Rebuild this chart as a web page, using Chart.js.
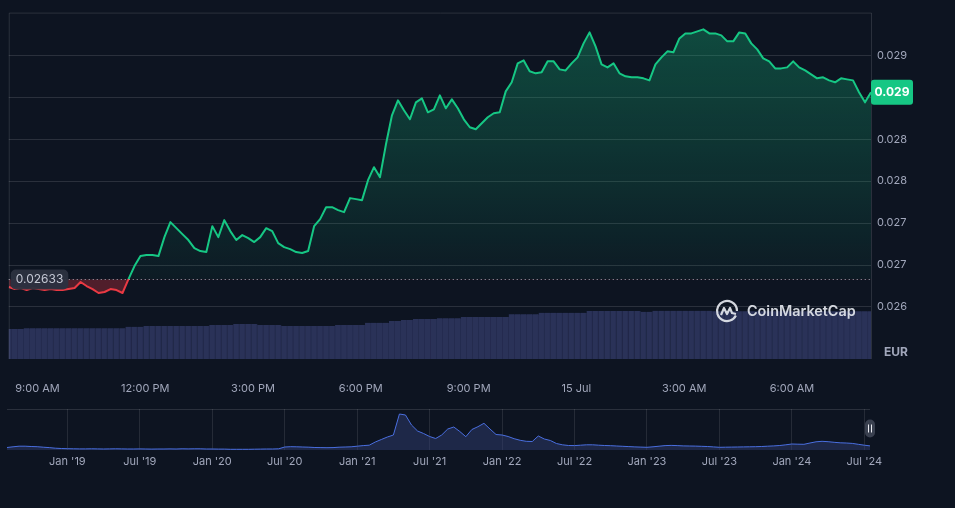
<!DOCTYPE html>
<html>
<head>
<meta charset="utf-8">
<script src="https://cdn.jsdelivr.net/npm/chart.js@4.4.0/dist/chart.umd.min.js"></script>
<style>
  html, body { margin: 0; padding: 0; background: #0d1421; }
  body { width: 955px; height: 508px; position: relative; overflow: hidden; }
  #main { position: absolute; left: 0; top: 0; }
  #nav { position: absolute; left: 0; top: 395px; }
</style>
</head>
<body>
<canvas id="main" width="955" height="395"></canvas>
<canvas id="nav" width="955" height="113"></canvas>
<script>
// 24h price, one point every 10 minutes (hours from 08:12)
const prices = [
  0.026238, 0.026214, 0.026226, 0.026202, 0.026226, 0.026214, 0.026202, 0.026214, 0.026202, 0.026202,
  0.026214, 0.026226, 0.026298, 0.026250, 0.026214, 0.026167, 0.026179, 0.026214, 0.026202, 0.026167,
  0.026333, 0.026488, 0.026607, 0.026619, 0.026619, 0.026607, 0.026833, 0.027012, 0.026940, 0.026869,
  0.026798, 0.026702, 0.026667, 0.026655, 0.026964, 0.026833, 0.027036, 0.026905, 0.026798, 0.026857,
  0.026821, 0.026774, 0.026833, 0.026940, 0.026905, 0.026762, 0.026714, 0.026690, 0.026655, 0.026643,
  0.026667, 0.026964, 0.027048, 0.027190, 0.027190, 0.027155, 0.027131, 0.027298, 0.027286, 0.027274,
  0.027512, 0.027667, 0.027548, 0.027940, 0.028286, 0.028464, 0.028345, 0.028238, 0.028440, 0.028488,
  0.028321, 0.028357, 0.028524, 0.028369, 0.028476, 0.028369, 0.028238, 0.028143, 0.028119, 0.028190,
  0.028262, 0.028310, 0.028321, 0.028571, 0.028679, 0.028905, 0.028940, 0.028810, 0.028786, 0.028798,
  0.028929, 0.028929, 0.028833, 0.028821, 0.028905, 0.028976, 0.029143, 0.029274, 0.029107, 0.028893,
  0.028857, 0.028905, 0.028786, 0.028750, 0.028738, 0.028738, 0.028726, 0.028702, 0.028893, 0.028976,
  0.029048, 0.029036, 0.029202, 0.029262, 0.029262, 0.029286, 0.029310, 0.029262, 0.029262, 0.029238,
  0.029167, 0.029167, 0.029274, 0.029262, 0.029143, 0.029071, 0.028964, 0.028929, 0.028845, 0.028845,
  0.028857, 0.028929, 0.028857, 0.028821, 0.028774, 0.028726, 0.028738, 0.028702, 0.028679, 0.028726,
  0.028714, 0.028702, 0.028560, 0.028440, 0.028560
];

// volume (M EUR), same timestamps
const volumes = [
  2.40, 2.40, 2.40, 2.46, 2.46, 2.46, 2.46, 2.46, 2.46, 2.46,
  2.46, 2.46, 2.46, 2.46, 2.46, 2.46, 2.46, 2.46, 2.46, 2.46,
  2.58, 2.58, 2.58, 2.64, 2.64, 2.64, 2.64, 2.64, 2.64, 2.64,
  2.64, 2.64, 2.64, 2.64, 2.72, 2.72, 2.72, 2.72, 2.80, 2.80,
  2.80, 2.80, 2.72, 2.72, 2.72, 2.72, 2.64, 2.64, 2.64, 2.64,
  2.64, 2.64, 2.64, 2.64, 2.64, 2.72, 2.72, 2.72, 2.72, 2.72,
  2.90, 2.90, 2.90, 2.90, 3.04, 3.04, 3.12, 3.12, 3.20, 3.20,
  3.20, 3.20, 3.26, 3.26, 3.26, 3.26, 3.36, 3.36, 3.36, 3.36,
  3.36, 3.36, 3.36, 3.36, 3.58, 3.58, 3.58, 3.58, 3.58, 3.70,
  3.70, 3.70, 3.70, 3.70, 3.70, 3.70, 3.70, 3.84, 3.84, 3.84,
  3.84, 3.84, 3.84, 3.84, 3.84, 3.84, 3.78, 3.78, 3.86, 3.86,
  3.86, 3.86, 3.86, 3.86, 3.86, 3.86, 3.86, 3.86, 3.82, 3.82,
  3.82, 3.82, 3.82, 3.82, 3.82, 3.82, 3.82, 3.82, 3.82, 3.82,
  3.82, 3.82, 3.82, 3.82, 3.82, 3.82, 3.82, 3.82, 3.82, 3.82,
  3.82, 3.82, 3.82, 3.82, 3.82
];

const openPrice = 0.02633;
const priceTicks = [0.026, 0.0265, 0.027, 0.0275, 0.028, 0.0285, 0.029];
const priceTickLabels = ['0.026', '0.027', '0.027', '0.028', '0.028', '0.029', '0.029'];
const timeTicks = [0.8, 3.8, 6.8, 9.8, 12.8, 15.8, 18.8, 21.8];
const timeLabels = ['9:00 AM', '12:00 PM', '3:00 PM', '6:00 PM', '9:00 PM', '15 Jul', '3:00 AM', '6:00 AM'];

// all-time history, half-month steps from Aug 2018 (months since Jan 2018)
const historyPrices = [
  0.0175, 0.0224, 0.0266, 0.0266, 0.0245, 0.0231, 0.0196, 0.0168, 0.0126, 0.0105,
  0.0091, 0.0084, 0.0077, 0.0077, 0.0084, 0.0077, 0.0070, 0.0077, 0.0084, 0.0077,
  0.0070, 0.0070, 0.0077, 0.0070, 0.0063, 0.0070, 0.0070, 0.0077, 0.0070, 0.0084,
  0.0077, 0.0084, 0.0084, 0.0070, 0.0070, 0.0063, 0.0063, 0.0049, 0.0049, 0.0049,
  0.0049, 0.0056, 0.0063, 0.0070, 0.0070, 0.0084, 0.0210, 0.0231, 0.0224, 0.0210,
  0.0196, 0.0175, 0.0168, 0.0161, 0.0168, 0.0196, 0.0210, 0.0224, 0.0266, 0.0308,
  0.0336, 0.0560, 0.0735, 0.0910, 0.1050, 0.2520, 0.2450, 0.1750, 0.1330, 0.1155,
  0.0945, 0.0805, 0.1050, 0.1470, 0.1610, 0.1295, 0.0931, 0.1435, 0.1631, 0.1869,
  0.1470, 0.1085, 0.1050, 0.0945, 0.0791, 0.0679, 0.0609, 0.0595, 0.0980, 0.0770,
  0.0665, 0.0455, 0.0364, 0.0315, 0.0308, 0.0336, 0.0364, 0.0364, 0.0336, 0.0315,
  0.0301, 0.0280, 0.0259, 0.0238, 0.0217, 0.0203, 0.0189, 0.0224, 0.0266, 0.0308,
  0.0322, 0.0308, 0.0287, 0.0280, 0.0273, 0.0259, 0.0245, 0.0217, 0.0189, 0.0196,
  0.0203, 0.0210, 0.0217, 0.0224, 0.0231, 0.0245, 0.0266, 0.0287, 0.0315, 0.0364,
  0.0420, 0.0406, 0.0399, 0.0490, 0.0574, 0.0609, 0.0581, 0.0539, 0.0504, 0.0490,
  0.0462, 0.0399, 0.0336, 0.0285
];
const historyTicks = [12, 18, 24, 30, 36, 42, 48, 54, 60, 66, 72, 78];
const historyLabels = ["Jan '19", "Jul '19", "Jan '20", "Jul '20", "Jan '21", "Jul '21",
                       "Jan '22", "Jul '22", "Jan '23", "Jul '23", "Jan '24", "Jul '24"];

const green = '#16c784';
const red = '#ea3943';
const gridColor = 'rgba(255,255,255,0.12)';
const labelColor = '#a1a7bb';
const font = 'Inter';

// line colour switches at the open price
function splitColor(context) {
    const chart = context.chart;
    const a = chart.chartArea;
    if (!a) return green;
    const yb = chart.scales.y.getPixelForValue(openPrice);
    const f = Math.min(1, Math.max(0, (yb - a.top) / (a.bottom - a.top)));
    const g = chart.ctx.createLinearGradient(0, a.top, 0, a.bottom);
    g.addColorStop(0, green);
    g.addColorStop(f, green);
    g.addColorStop(f, red);
    g.addColorStop(1, red);
    return g;
}

function greenFill(context) {
    const chart = context.chart;
    const a = chart.chartArea;
    if (!a) return 'rgba(22,199,132,0.15)';
    const yb = chart.scales.y.getPixelForValue(openPrice);
    const g = chart.ctx.createLinearGradient(0, a.top, 0, yb);
    g.addColorStop(0, 'rgba(22,199,132,0.32)');
    g.addColorStop(1, 'rgba(22,199,132,0.04)');
    return g;
}

const overlay = {
    id: 'overlay',
    afterDatasetsDraw(chart) {
        const { ctx, chartArea: a, scales } = chart;
        const yb = Math.round(scales.y.getPixelForValue(openPrice)) + 0.5;
        ctx.save();

        // frame
        ctx.strokeStyle = gridColor;
        ctx.lineWidth = 1;
        ctx.beginPath();
        ctx.moveTo(a.left + 0.5, a.bottom);
        ctx.lineTo(a.left + 0.5, a.top + 0.5);
        ctx.lineTo(a.right + 0.5, a.top + 0.5);
        ctx.lineTo(a.right + 0.5, a.bottom);
        ctx.stroke();

        // dotted open price line
        ctx.setLineDash([1, 3]);
        ctx.strokeStyle = 'rgba(210,214,225,0.75)';
        ctx.beginPath();
        ctx.moveTo(a.left, yb);
        ctx.lineTo(a.right, yb);
        ctx.stroke();
        ctx.setLineDash([]);

        // open price label
        ctx.font = '12px ' + font;
        const txt = '0.02633';
        const tw = ctx.measureText(txt).width;
        ctx.fillStyle = 'rgba(44,49,64,0.95)';
        ctx.beginPath();
        ctx.roundRect(a.left + 2, yb - 10, tw + 10, 20, 5);
        ctx.fill();
        ctx.fillStyle = '#c3c7d3';
        ctx.textBaseline = 'middle';
        ctx.textAlign = 'left';
        ctx.fillText(txt, a.left + 7, yb);

        // watermark
        const cx = a.right - 144, cy = a.bottom - 48;
        ctx.strokeStyle = 'rgba(228,231,238,0.92)';
        ctx.lineWidth = 2.2;
        ctx.lineJoin = 'round';
        ctx.beginPath();
        ctx.arc(cx, cy, 10, 0.15 * Math.PI, 2.0 * Math.PI);
        ctx.stroke();
        ctx.beginPath();
        ctx.moveTo(cx - 6, cy + 4);
        ctx.lineTo(cx - 3, cy - 3);
        ctx.lineTo(cx, cy + 3);
        ctx.lineTo(cx + 3, cy - 3);
        ctx.lineTo(cx + 5, cy + 2);
        ctx.lineTo(cx + 9, cy + 3);
        ctx.stroke();
        ctx.font = '600 15px ' + font;
        const ww = ctx.measureText('CoinMarketCap').width;
        const fs = 15 * 109 / ww;
        ctx.font = '600 ' + fs.toFixed(1) + 'px ' + font;
        ctx.fillStyle = 'rgba(228,231,238,0.92)';
        ctx.fillText('CoinMarketCap', cx + 20, cy + 1);

        // current price badge
        const last = prices[prices.length - 1];
        const yl = scales.y.getPixelForValue(last);
        ctx.fillStyle = green;
        ctx.beginPath();
        ctx.roundRect(a.right, yl - 12.5, 42, 25, 3);
        ctx.fill();
        ctx.fillStyle = '#ffffff';
        ctx.font = 'bold 12px ' + font;
        ctx.textAlign = 'center';
        ctx.fillText(last.toFixed(3), a.right + 21, yl + 0.5);

        // currency
        ctx.fillStyle = labelColor;
        ctx.font = 'bold 12px ' + font;
        ctx.fillText('EUR', a.right + 25, a.bottom - 7);
        ctx.restore();
    }
};

new Chart(document.getElementById('main'), {
    type: 'line',
    data: {
        datasets: [{
            type: 'line',
            data: prices.map((p, i) => ({ x: i / 6, y: p })),
            borderColor: splitColor,
            backgroundColor: greenFill,
            fill: { target: { value: openPrice }, below: 'rgba(234,57,67,0.3)' },
            borderWidth: 2,
            borderJoinStyle: 'round',
            pointRadius: 0,
            tension: 0,
            order: 1,
            yAxisID: 'y'
        }, {
            type: 'bar',
            data: volumes.map((v, i) => ({ x: i / 6, y: v })),
            backgroundColor: '#2a3258',
            borderColor: '#242b4e',
            borderWidth: { right: 1 },
            barPercentage: 1,
            categoryPercentage: 1,
            order: 2,
            yAxisID: 'yv'
        }]
    },
    options: {
        responsive: false,
        animation: false,
        layout: { padding: { left: 7, top: 12, right: 0, bottom: 0 } },
        plugins: { legend: { display: false }, tooltip: { enabled: false } },
        scales: {
            x: {
                type: 'linear', min: 0, max: 24, offset: false,
                grid: { display: false }, border: { display: false },
                afterBuildTicks: s => { s.ticks = timeTicks.map(v => ({ value: v })); },
                afterFit: s => { s.height = 36; },
                ticks: {
                    autoSkip: false, maxRotation: 0, padding: 15, color: labelColor,
                    font: { family: font, size: 11 },
                    callback: (v, i) => timeLabels[i]
                }
            },
            y: {
                position: 'right', min: 0.02538, max: 0.02951,
                grid: { color: gridColor, drawTicks: false }, border: { display: false },
                afterBuildTicks: s => { s.ticks = priceTicks.map(v => ({ value: v })); },
                afterFit: s => { s.width = 84; },
                ticks: {
                    padding: 6, color: labelColor,
                    font: { family: font, size: 11 },
                    callback: (v, i) => priceTickLabels[i]
                }
            },
            yv: { display: false, min: 0, max: 27.76 }
        }
    },
    plugins: [overlay]
});

const navOverlay = {
    id: 'navOverlay',
    afterDatasetsDraw(chart) {
        const { ctx, chartArea: a } = chart;
        ctx.save();
        ctx.strokeStyle = gridColor;
        ctx.lineWidth = 1;
        ctx.beginPath();
        ctx.moveTo(a.left, a.top + 0.5);
        ctx.lineTo(a.right, a.top + 0.5);
        ctx.stroke();
        // handle
        const hx = a.right, hy = (a.top + a.bottom) / 2 - 1;
        ctx.fillStyle = 'rgba(95,100,118,0.55)';
        ctx.beginPath();
        ctx.roundRect(hx - 5, hy - 9, 10, 18, 5);
        ctx.fill();
        ctx.strokeStyle = '#e8eaf0';
        ctx.beginPath();
        ctx.moveTo(hx - 1.5, hy - 4); ctx.lineTo(hx - 1.5, hy + 4);
        ctx.moveTo(hx + 1.5, hy - 4); ctx.lineTo(hx + 1.5, hy + 4);
        ctx.stroke();
        ctx.restore();
    }
};

new Chart(document.getElementById('nav'), {
    type: 'line',
    data: {
        datasets: [{
            data: historyPrices.map((p, i) => ({ x: 7 + i / 2, y: p })),
            borderColor: '#4a6fe0',
            borderWidth: 1,
            backgroundColor: 'rgba(52,64,120,0.45)',
            fill: 'origin',
            pointRadius: 0,
            tension: 0
        }]
    },
    options: {
        responsive: false,
        animation: false,
        layout: { padding: { left: 7, right: 85, top: 14, bottom: 0 } },
        plugins: { legend: { display: false }, tooltip: { enabled: false } },
        scales: {
            x: {
                type: 'linear', min: 7, max: 78.47,
                grid: { color: 'rgba(255,255,255,0.1)', drawTicks: false }, border: { display: false },
                afterBuildTicks: s => { s.ticks = historyTicks.map(v => ({ value: v })); },
                afterFit: s => { s.height = 58; },
                ticks: {
                    autoSkip: false, maxRotation: 0, padding: 5, color: labelColor,
                    font: { family: font, size: 11 },
                    callback: (v, i) => historyLabels[i]
                }
            },
            y: { display: false, min: 0, max: 0.287 }
        }
    },
    plugins: [navOverlay]
});
</script>
</body>
</html>
